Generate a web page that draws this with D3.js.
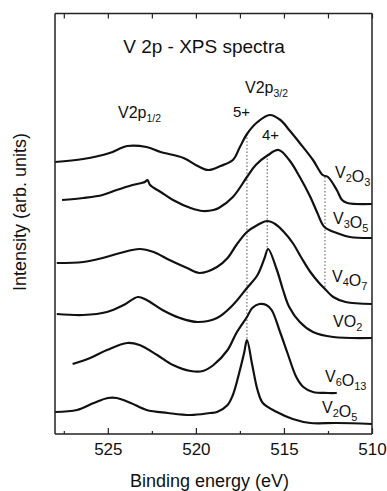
<!DOCTYPE html>
<html>
<head>
<meta charset="utf-8">
<script src="https://cdn.jsdelivr.net/npm/d3@7"></script>
<style>
  body { margin: 0; background: #fff; }
  svg { font-family: "Liberation Sans", Arial, sans-serif; display: block; }
</style>
</head>
<body>
<div id="vis"></div>
<script>
// binding energy (eV) and intensity (arb. units)
const v2o3E = [528.0, 526.4, 524.9, 523.9, 522.8, 522.0, 520.7, 519.9, 519.3, 518.6, 517.9, 517.5, 517.1, 516.5, 515.8, 515.2, 514.7, 514.1, 513.35, 512.8, 512.5, 512.0, 511.7, 511.4, 510.0];
const v2o3I = [272, 275, 281, 288, 287, 282, 276, 268, 264, 268, 274, 287, 300, 312, 319, 314, 304, 291, 274, 259, 257, 244, 234, 231, 230];

const v3o5E = [527.6, 526.4, 525.3, 524.5, 523.6, 522.9, 522.75, 522.6, 522.0, 521.3, 520.3, 519.6, 519.0, 518.7, 517.9, 517.1, 516.6, 515.9, 515.3, 514.7, 514.1, 513.5, 513.1, 512.7, 512.0, 511.25, 510.0];
const v3o5I = [234, 236, 239, 244, 249, 252, 254, 249, 242, 234, 226, 223, 224, 226, 237, 257, 269, 279, 284, 274, 257, 237, 221, 207, 201, 197, 196];

const v4o7E = [527.9, 526.4, 525.3, 524.3, 523.2, 522.4, 521.5, 520.5, 519.8, 518.8, 518.2, 517.7, 517.1, 516.5, 515.95, 515.5, 515.0, 514.5, 514.0, 513.5, 513.0, 512.67, 512.2, 511.5, 510.0];
const v4o7I = [171, 172, 176, 181, 185, 182, 174, 166, 161, 167, 176, 189, 202, 209, 213, 210, 202, 191, 176, 162, 151, 145, 137, 132, 130];

const vo2E = [527.9, 526.4, 525.05, 524.1, 523.3, 522.8, 521.9, 520.9, 519.9, 518.8, 517.9, 517.1, 516.5, 516.1, 515.9, 515.4, 515.05, 514.7, 514.1, 513.35, 512.2, 510.0];
const vo2I = [120, 119, 122, 129, 137, 134, 124, 116, 112, 116, 129, 146, 159, 176, 185, 164, 144, 127, 112, 102, 97, 96];

const v6o13E = [527.0, 526.0, 525.05, 523.9, 523.2, 522.2, 521.3, 520.3, 519.6, 519.0, 518.2, 517.7, 517.1, 516.8, 516.4, 516.0, 515.7, 515.2, 514.8, 514.3, 513.9, 513.35, 512.5, 512.0];
const v6o13I = [70, 76, 84, 91, 89, 79, 69, 63, 63, 69, 84, 101, 117, 126, 130, 129, 124, 101, 81, 57, 47, 42, 41, 41];

const v2o5E = [528.0, 526.75, 525.8, 525.0, 524.5, 523.7, 522.8, 521.6, 520.3, 519.2, 518.8, 518.2, 517.9, 517.5, 517.25, 517.1, 516.8, 516.5, 516.2, 515.4, 514.5, 513.5, 512.0, 510.0];
const v2o5I = [22, 24, 31, 36, 36, 31, 24, 21, 19, 21, 22, 29, 39, 64, 82, 94, 69, 44, 31, 22, 15, 11, 11, 10];

const seriesNames = ["V2O3", "V3O5", "V4O7", "VO2", "V6O13", "V2O5"];

// vertical dotted markers: energy, top and bottom intensity
const markerE = [517.1, 515.95, 512.67];
const markerTop = [300, 279, 257];
const markerBottom = [94, 185, 145];

const majorTicks = [525, 520, 515, 510];
const minorTicks = [527.5, 522.5, 517.5, 512.5];

const W = 387, H = 491;
const M = { left: 55, right: 15, top: 13.5, bottom: 57 };

const svg = d3.select("#vis").append("svg")
  .attr("width", W).attr("height", H);

const x = d3.scaleLinear().domain([528, 510]).range([M.left, W - M.right]);
const y = d3.scaleLinear().domain([0, 420.5]).range([H - M.bottom, M.top]);

const series = [
  [v2o3E, v2o3I], [v3o5E, v3o5I], [v4o7E, v4o7I],
  [vo2E, vo2I], [v6o13E, v6o13I], [v2o5E, v2o5I]
].map(([e, v]) => e.map((d, i) => ({ e: d, v: v[i] })));

const line = d3.line()
  .x(d => x(d.e)).y(d => y(d.v))
  .curve(d3.curveCatmullRom.alpha(0.5));

// dotted markers
svg.selectAll(".marker")
  .data(markerE)
  .enter().append("line")
  .attr("x1", d => x(d)).attr("x2", d => x(d))
  .attr("y1", (d, i) => y(markerTop[i]))
  .attr("y2", (d, i) => y(markerBottom[i]))
  .attr("stroke", "#555").attr("stroke-width", 1)
  .attr("stroke-dasharray", "1.5,2");

svg.selectAll(".spec")
  .data(series)
  .enter().append("path")
  .attr("d", line)
  .attr("fill", "none")
  .attr("stroke", "#111")
  .attr("stroke-width", 2.2);

// frame
const x0 = x.range()[0], x1 = x.range()[1];
const y0 = y.range()[1], y1 = y.range()[0];
const frame = svg.append("g").attr("stroke", "#222").attr("stroke-width", 1.5);
frame.append("line").attr("x1", x0).attr("x2", x0).attr("y1", y0).attr("y2", y1);
frame.append("line").attr("x1", x1).attr("x2", x1).attr("y1", y0).attr("y2", y1);
frame.append("line").attr("x1", x0).attr("x2", x1).attr("y1", y0).attr("y2", y0);
frame.append("line").attr("x1", x0).attr("x2", x1).attr("y1", y1).attr("y2", y1);

const axBottom = svg.append("g")
  .attr("transform", `translate(0,${y1})`)
  .call(d3.axisBottom(x).tickValues(majorTicks).tickSize(-6).tickPadding(9)
    .tickFormat(d3.format("d")));
axBottom.select(".domain").remove();
axBottom.selectAll("text").attr("font-size", 17).attr("font-family", "Liberation Sans, Arial").attr("fill", "#111");

const axBottomMinor = svg.append("g")
  .attr("transform", `translate(0,${y1})`)
  .call(d3.axisBottom(x).tickValues(minorTicks).tickSize(-3).tickFormat(""));
axBottomMinor.select(".domain").remove();

const axTop = svg.append("g")
  .attr("transform", `translate(0,${y0})`)
  .call(d3.axisTop(x).tickValues(majorTicks.concat(minorTicks)).tickSize(-5).tickFormat(""));
axTop.select(".domain").remove();

svg.selectAll(".tick line").attr("stroke", "#222").attr("stroke-width", 1.2);

// axis titles
svg.append("text")
  .attr("x", (x0 + x1) / 2 - 4).attr("y", 487)
  .attr("text-anchor", "middle").attr("font-size", 18).attr("fill", "#111")
  .text("Binding energy (eV)");

svg.append("text")
  .attr("transform", "translate(26,212) rotate(-90)")
  .attr("text-anchor", "middle").attr("font-size", 18).attr("fill", "#111")
  .text("Intensity (arb. units)");

svg.append("text")
  .attr("x", 204).attr("y", 53)
  .attr("text-anchor", "middle").attr("font-size", 19).attr("fill", "#111")
  .text("V 2p - XPS spectra");

// peak annotations
function subLabel(px, py, base, sub, size) {
  const t = svg.append("text").attr("x", px).attr("y", py)
    .attr("font-size", size).attr("fill", "#111");
  t.append("tspan").text(base);
  t.append("tspan").attr("font-size", size * 0.65).attr("dy", 4).text(sub);
  return t;
}
subLabel(118, 118, "V2p", "1/2", 16);
subLabel(245, 93, "V2p", "3/2", 16);

svg.append("text").attr("x", 233).attr("y", 117)
  .attr("font-size", 15).attr("fill", "#111").text("5+");
svg.append("text").attr("x", 262).attr("y", 140)
  .attr("font-size", 15).attr("fill", "#111").text("4+");

// compound labels
const labelX = [335, 333, 332, 333, 325, 322];
const labelY = [178, 224, 282, 327, 382, 413];
seriesNames.forEach((name, i) => {
  const parts = name.match(/[A-Z]\d*/g);
  const t = svg.append("text").attr("x", labelX[i]).attr("y", labelY[i])
    .attr("font-size", 16).attr("fill", "#111");
  parts.forEach(p => {
    const el = p[0], n = p.slice(1);
    if (n) {
      t.append("tspan").attr("font-size", 16).text(el);
      t.append("tspan").attr("font-size", 11).attr("dy", 4).text(n);
      t.append("tspan").attr("dy", -4).text("");
    } else {
      t.append("tspan").attr("font-size", 16).text(el);
    }
  });
});
</script>
</body>
</html>
